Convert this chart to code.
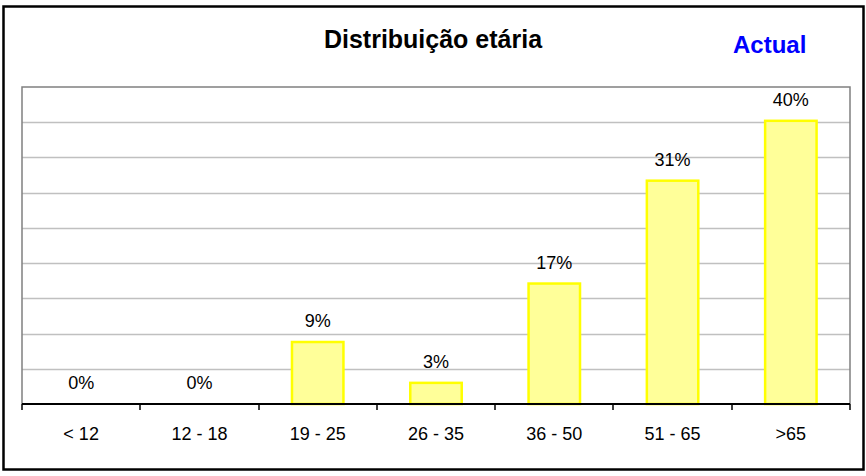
<!DOCTYPE html>
<html>
<head>
<meta charset="utf-8">
<script src="https://cdn.jsdelivr.net/npm/d3@7"></script>
<style>
    body { margin: 0; background: #ffffff; }
    text { font-family: Arial, "Liberation Sans", sans-serif; }
</style>
</head>
<body>
<div id="chart-container"></div>
<script>
const categories = ['< 12', '12 - 18', '19 - 25', '26 - 35', '36 - 50', '51 - 65', '>65'];
const values = [0, 0, 8.8, 3.0, 17.1, 31.7, 40.2];
const valueLabels = ['0%', '0%', '9%', '3%', '17%', '31%', '40%'];
const gridTicks = [5, 10, 15, 20, 25, 30, 35, 40];
const title = 'Distribuição etária';
const subtitle = 'Actual';

const width = 866;
const height = 476;
const margin = {
    top: 87, right: 16, bottom: 72, left: 22,
};

const svg = d3
    .select('#chart-container')
    .append('svg')
    .attr('width', width)
    .attr('height', height);

// outer frame
svg.append('rect')
    .attr('x', 3.5)
    .attr('y', 6.5)
    .attr('width', 860)
    .attr('height', 463)
    .style('fill', '#ffffff')
    .style('stroke', '#000000')
    .style('stroke-width', 2.5);

const x = d3
    .scaleBand()
    .domain(categories)
    .range([margin.left, width - margin.right])
    .paddingInner(0.565)
    .paddingOuter(0.2825);

const xBand = d3
    .scaleBand()
    .domain(categories)
    .range([margin.left, width - margin.right]);

const y = d3
    .scaleLinear()
    .domain([0, 45])
    .range([height - margin.bottom, margin.top]);

const rows = values.map((v, i) => ({ label: categories[i], value: v, text: valueLabels[i] }));

// gridlines
svg.append('g')
    .selectAll('line')
    .data(gridTicks)
    .enter()
    .append('line')
    .attr('x1', margin.left)
    .attr('x2', width - margin.right)
    .attr('y1', (d) => Math.round(y(d)) + 0.5)
    .attr('y2', (d) => Math.round(y(d)) + 0.5)
    .style('stroke', '#c0c0c0')
    .style('stroke-width', 1.5);

// plot frame (top, left, right)
svg.append('path')
    .attr('d', `M${margin.left},${height - margin.bottom}V${margin.top}H${width - margin.right}V${height - margin.bottom}`)
    .style('fill', 'none')
    .style('stroke', '#808080')
    .style('stroke-width', 1.5);

// bars
svg.append('g')
    .selectAll('rect')
    .data(rows.filter((d) => d.value > 0))
    .enter()
    .append('rect')
    .attr('x', (d) => x(d.label))
    .attr('y', (d) => y(d.value))
    .attr('width', x.bandwidth())
    .attr('height', (d) => y(0) - y(d.value))
    .style('fill', '#ffff99')
    .style('stroke', '#ffff00')
    .style('stroke-width', 2.5);

// value labels
svg.append('g')
    .selectAll('text')
    .data(rows)
    .enter()
    .append('text')
    .attr('x', (d) => x(d.label) + x.bandwidth() / 2)
    .attr('y', (d) => y(d.value) - 15)
    .attr('text-anchor', 'middle')
    .style('font-size', '18px')
    .style('fill', '#000000')
    .text((d) => d.text);

// x axis
const xAxis = d3
    .axisBottom(xBand)
    .tickSize(0)
    .tickPadding(0)
    .tickFormat(() => '');

const axisG = svg.append('g')
    .attr('transform', `translate(0, ${height - margin.bottom})`)
    .call(xAxis);
axisG.select('.domain')
    .attr('d', `M${margin.left},0H${width - margin.right}`)
    .style('stroke', '#000000')
    .style('stroke-width', 2);

// tick marks at category boundaries
const boundaries = categories.map((c) => xBand(c)).concat([width - margin.right]);
axisG.append('g')
    .selectAll('line')
    .data(boundaries)
    .enter()
    .append('line')
    .attr('x1', (d) => Math.round(d))
    .attr('x2', (d) => Math.round(d))
    .attr('y1', 0)
    .attr('y2', 6)
    .style('stroke', '#000000')
    .style('stroke-width', 1.5);

axisG.append('g')
    .selectAll('text')
    .data(categories)
    .enter()
    .append('text')
    .attr('x', (d) => xBand(d) + xBand.bandwidth() / 2)
    .attr('y', 36)
    .attr('text-anchor', 'middle')
    .style('font-size', '18px')
    .style('fill', '#000000')
    .text((d) => d);

// titles
svg.append('text')
    .attr('x', 433)
    .attr('y', 48)
    .attr('text-anchor', 'middle')
    .style('font-size', '25px')
    .style('font-weight', 'bold')
    .style('fill', '#000000')
    .text(title);

svg.append('text')
    .attr('x', 733)
    .attr('y', 53)
    .style('font-size', '24px')
    .style('font-weight', 'bold')
    .style('fill', '#0000ff')
    .text(subtitle);
</script>
</body>
</html>
